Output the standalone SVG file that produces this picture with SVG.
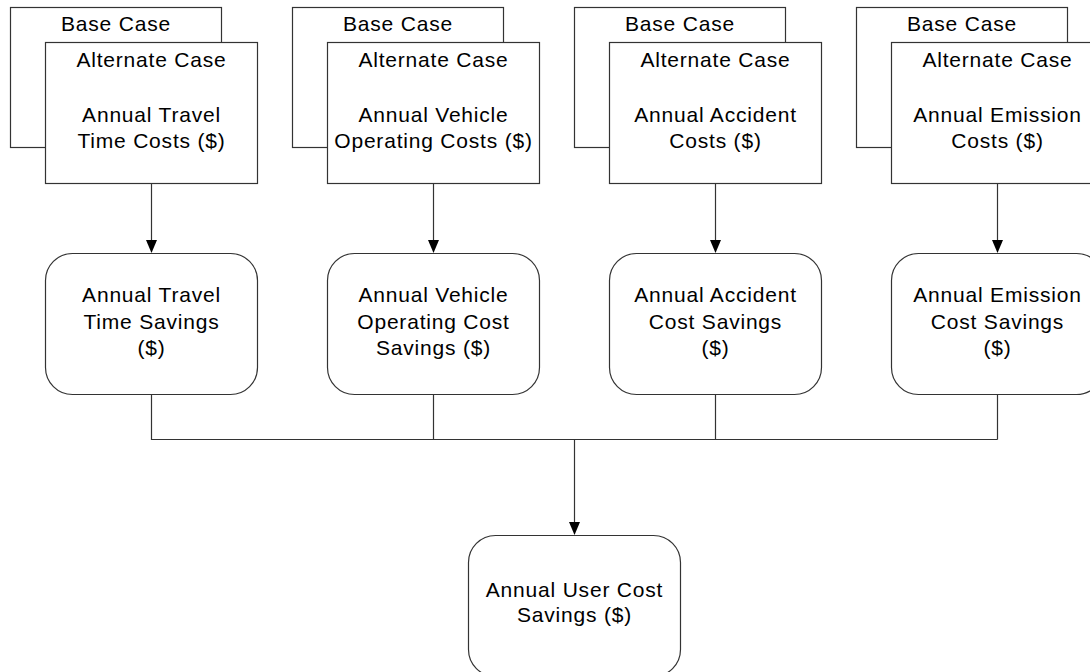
<svg xmlns="http://www.w3.org/2000/svg" width="1090" height="672" viewBox="0 0 1090 672">
<style>
.box{fill:#fff;stroke:#333;stroke-width:1.2}
.t{font-family:"Liberation Sans",Arial,sans-serif;font-size:21px;letter-spacing:0.8px;fill:#000;text-anchor:middle}
.c{fill:none;stroke:#333;stroke-width:1.2}
.ah{fill:#000}
</style>
<g id="connectors">
<path class="c" d="M151.5,183 V241"/>
<path class="c" d="M433.5,183 V241"/>
<path class="c" d="M715.5,183 V241"/>
<path class="c" d="M997.5,183 V241"/>
<path class="c" d="M151.5,394 V439.5 H997.5 M433.5,394 V439.5 M715.5,394 V439.5 M997.5,394 V439.5"/>
<polygon class="ah" points="146,240 157,240 151.5,253"/>
<polygon class="ah" points="428,240 439,240 433.5,253"/>
<polygon class="ah" points="710,240 721,240 715.5,253"/>
<polygon class="ah" points="992,240 1003,240 997.5,253"/>
<path class="c" d="M574.5,439.5 V523"/>
<polygon class="ah" points="569,522 580,522 574.5,535"/>
</g>
<g id="base1"><rect class="box" x="10.5" y="7.5" width="211" height="140"/><text class="t" x="116" y="31">Base Case</text></g>
<g id="alt1"><rect class="box" x="45.5" y="42.5" width="212" height="141"/><text class="t" x="151.5" y="67">Alternate Case</text><text class="t" x="151.5" y="122">Annual Travel</text><text class="t" x="151.5" y="148">Time Costs ($)</text></g>
<g id="base2"><rect class="box" x="292.5" y="7.5" width="211" height="140"/><text class="t" x="398" y="31">Base Case</text></g>
<g id="alt2"><rect class="box" x="327.5" y="42.5" width="212" height="141"/><text class="t" x="433.5" y="67">Alternate Case</text><text class="t" x="433.5" y="122">Annual Vehicle</text><text class="t" x="433.5" y="148">Operating Costs ($)</text></g>
<g id="base3"><rect class="box" x="574.5" y="7.5" width="211" height="140"/><text class="t" x="680" y="31">Base Case</text></g>
<g id="alt3"><rect class="box" x="609.5" y="42.5" width="212" height="141"/><text class="t" x="715.5" y="67">Alternate Case</text><text class="t" x="715.5" y="122">Annual Accident</text><text class="t" x="715.5" y="148">Costs ($)</text></g>
<g id="base4"><rect class="box" x="856.5" y="7.5" width="211" height="140"/><text class="t" x="962" y="31">Base Case</text></g>
<g id="alt4"><rect class="box" x="891.5" y="42.5" width="212" height="141"/><text class="t" x="997.5" y="67">Alternate Case</text><text class="t" x="997.5" y="122">Annual Emission</text><text class="t" x="997.5" y="148">Costs ($)</text></g>
<g id="sav1"><rect class="box" x="45.5" y="253.5" width="212" height="141" rx="27"/><text class="t" x="151.5" y="302">Annual Travel</text><text class="t" x="151.5" y="328.5">Time Savings</text><text class="t" x="151.5" y="355">($)</text></g>
<g id="sav2"><rect class="box" x="327.5" y="253.5" width="212" height="141" rx="27"/><text class="t" x="433.5" y="302">Annual Vehicle</text><text class="t" x="433.5" y="328.5">Operating Cost</text><text class="t" x="433.5" y="355">Savings ($)</text></g>
<g id="sav3"><rect class="box" x="609.5" y="253.5" width="212" height="141" rx="27"/><text class="t" x="715.5" y="302">Annual Accident</text><text class="t" x="715.5" y="328.5">Cost Savings</text><text class="t" x="715.5" y="355">($)</text></g>
<g id="sav4"><rect class="box" x="891.5" y="253.5" width="212" height="141" rx="27"/><text class="t" x="997.5" y="302">Annual Emission</text><text class="t" x="997.5" y="328.5">Cost Savings</text><text class="t" x="997.5" y="355">($)</text></g>
<g id="total"><rect class="box" x="468.5" y="535.5" width="212" height="141" rx="27"/><text class="t" x="574.5" y="597">Annual User Cost</text><text class="t" x="574.5" y="622">Savings ($)</text></g>
</svg>
